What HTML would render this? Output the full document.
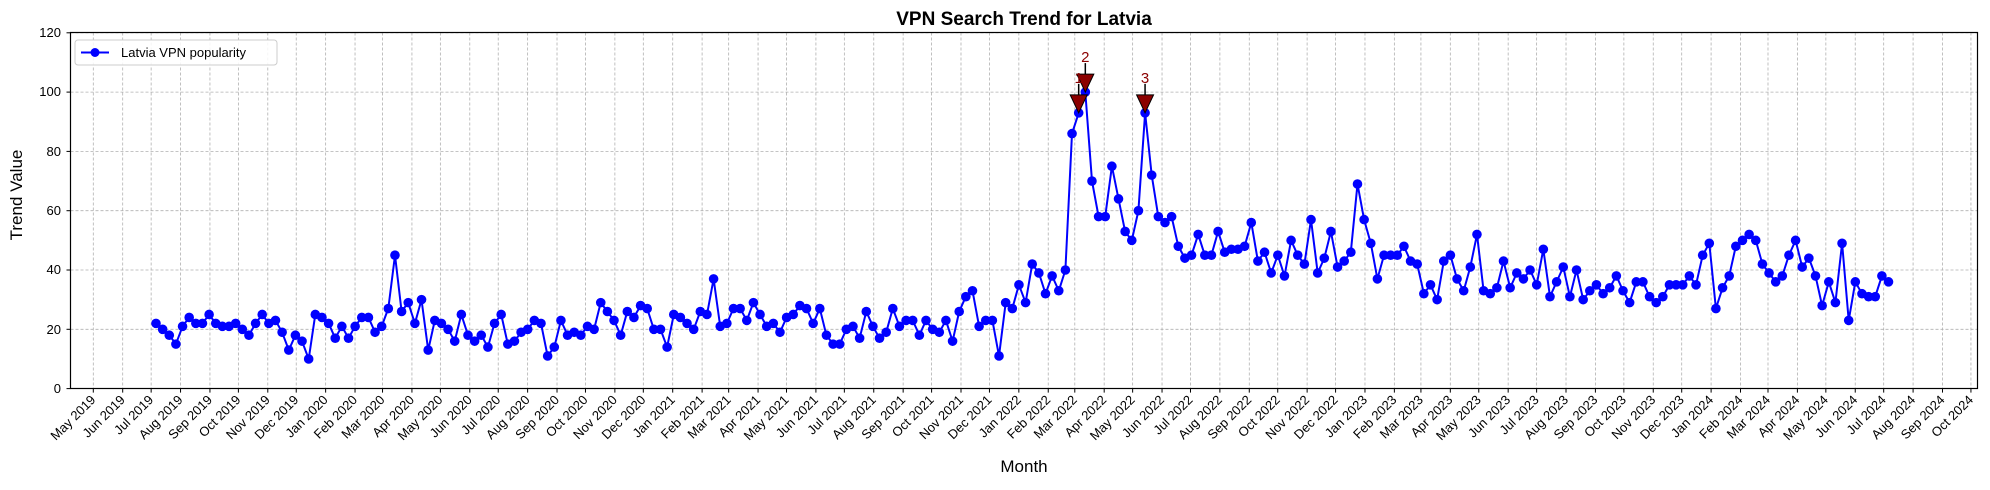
<!DOCTYPE html>
<html><head><meta charset="utf-8"><style>
body{margin:0;background:#fff;}
svg{display:block;font-family:"Liberation Sans","DejaVu Sans",sans-serif;}
</style></head><body>
<svg id="s" width="1990" height="490" xmlns="http://www.w3.org/2000/svg">
<rect width="1990" height="490" fill="#fff"/>
<g id="grid"></g>
<g id="ylab" font-size="13" text-anchor="end" fill="#000">
<text x="61" y="393">0</text><text x="61" y="334">20</text><text x="61" y="274">40</text><text x="61" y="215">60</text><text x="61" y="156">80</text><text x="61" y="96">100</text><text x="61" y="37">120</text>
</g>
<g id="xlab" font-size="13" text-anchor="end" fill="#000">
<text>May 2019</text><text>Jun 2019</text><text>Jul 2019</text><text>Aug 2019</text><text>Sep 2019</text><text>Oct 2019</text><text>Nov 2019</text><text>Dec 2019</text>
<text>Jan 2020</text><text>Feb 2020</text><text>Mar 2020</text><text>Apr 2020</text><text>May 2020</text><text>Jun 2020</text><text>Jul 2020</text><text>Aug 2020</text><text>Sep 2020</text><text>Oct 2020</text><text>Nov 2020</text><text>Dec 2020</text>
<text>Jan 2021</text><text>Feb 2021</text><text>Mar 2021</text><text>Apr 2021</text><text>May 2021</text><text>Jun 2021</text><text>Jul 2021</text><text>Aug 2021</text><text>Sep 2021</text><text>Oct 2021</text><text>Nov 2021</text><text>Dec 2021</text>
<text>Jan 2022</text><text>Feb 2022</text><text>Mar 2022</text><text>Apr 2022</text><text>May 2022</text><text>Jun 2022</text><text>Jul 2022</text><text>Aug 2022</text><text>Sep 2022</text><text>Oct 2022</text><text>Nov 2022</text><text>Dec 2022</text>
<text>Jan 2023</text><text>Feb 2023</text><text>Mar 2023</text><text>Apr 2023</text><text>May 2023</text><text>Jun 2023</text><text>Jul 2023</text><text>Aug 2023</text><text>Sep 2023</text><text>Oct 2023</text><text>Nov 2023</text><text>Dec 2023</text>
<text>Jan 2024</text><text>Feb 2024</text><text>Mar 2024</text><text>Apr 2024</text><text>May 2024</text><text>Jun 2024</text><text>Jul 2024</text><text>Aug 2024</text><text>Sep 2024</text><text>Oct 2024</text>
</g>
<g id="series"></g>
<g id="ann"></g>
<text x="16" y="0" transform="translate(22,211) rotate(-90)" font-size="17" text-anchor="middle" x="0">Trend Value</text>
<text x="1024" y="472" font-size="17" text-anchor="middle">Month</text>
<text x="1024" y="25" font-size="19" font-weight="bold" text-anchor="middle">VPN Search Trend for Latvia</text>
<rect x="70.5" y="32.5" width="1907" height="356" fill="none" stroke="#000" stroke-width="1.2"/>
<g id="legend">
<rect x="75" y="40" width="202" height="25" rx="3" fill="#fff" fill-opacity="0.85" stroke="#ccc"/>
<line x1="81" y1="52.5" x2="109" y2="52.5" stroke="#0000ff" stroke-width="2"/>
<circle cx="95" cy="52.5" r="4.5" fill="#0000ff"/>
<text x="121" y="57" font-size="13">Latvia VPN popularity</text>
</g>
<g id="ann2" font-size="15" fill="#8b0000" text-anchor="middle">
<text id="l1">1</text><text id="l2">2</text><text id="l3">3</text>
</g>
</svg>
<script>
var NS="http://www.w3.org/2000/svg";
function el(t,a,p){var e=document.createElementNS(NS,t);for(var k in a)e.setAttribute(k,a[k]);p.appendChild(e);return e;}
var L=70.5,R=1977.5,T=32.5,B=388.6,ppu=2.965;
function Y(v){return B-v*ppu;}
var g=document.getElementById('grid');
for(var v=0;v<=120;v+=20){var y=Y(v);el('line',{x1:L,x2:R,y1:y,y2:y,stroke:'#b0b0b0','stroke-width':0.8,'stroke-dasharray':'3,2'},g);el('line',{x1:L-4,x2:L,y1:y,y2:y,stroke:'#000'},g);}
var base=Date.UTC(2019,4,1),ppd=0.9483,x0=93.3;
var labs=document.getElementById('xlab').children;
for(var i=0;i<66;i++){var d=Date.UTC(2019,4+i,1);var x=x0+(d-base)/864e5*ppd;
el('line',{x1:x,x2:x,y1:T,y2:B,stroke:'#b0b0b0','stroke-width':0.8,'stroke-dasharray':'3,2'},g);
el('line',{x1:x,x2:x,y1:B,y2:B+4,stroke:'#000'},g);
labs[i].setAttribute('transform','translate('+(x+3)+','+(B+12)+') rotate(-45)');}
var d=[22,20,18,15,21,24,22,22,25,22,21,21,22,20,18,22,25,22,23,19,13,18,16,10,25,24,22,17,21,17,21,24,24,19,21,27,45,26,29,22,30,13,23,22,20,16,25,18,16,18,14,22,25,15,16,19,20,23,22,11,14,23,18,19,18,21,20,29,26,23,18,26,24,28,27,20,20,14,25,24,22,20,26,25,37,21,22,27,27,23,29,25,21,22,19,24,25,28,27,22,27,18,15,15,20,21,17,26,21,17,19,27,21,23,23,18,23,20,19,23,16,26,31,33,21,23,23,11,29,27,35,29,42,39,32,38,33,40,86,93,100,70,58,58,75,64,53,50,60,93,72,58,56,58,48,44,45,52,45,45,53,46,47,47,48,56,43,46,39,45,38,50,45,42,57,39,44,53,41,43,46,69,57,49,37,45,45,45,48,43,42,32,35,30,43,45,37,33,41,52,33,32,34,43,34,39,37,40,35,47,31,36,41,31,40,30,33,35,32,34,38,33,29,36,36,31,29,31,35,35,35,38,35,45,49,27,34,38,48,50,52,50,42,39,36,38,45,50,41,44,38,28,36,29,49,23,36,32,31,31,38,36];
var s=document.getElementById('series'),pts=[];
function X(i){return 156+i*6.638;}
for(var i=0;i<d.length;i++)pts.push(X(i).toFixed(1)+','+Y(d[i]).toFixed(1));
el('polyline',{points:pts.join(' '),fill:'none',stroke:'#0000ff','stroke-width':2},s);
for(var i=0;i<d.length;i++)el('circle',{cx:X(i),cy:Y(d[i]),r:4.8,fill:'#0000ff'},s);
var a=document.getElementById('ann');
[[139,'l1'],[149,'l3'],[140,'l2']].forEach(function(p){var x=X(p[0]),y=Y(d[p[0]]);
el('line',{x1:x,x2:x,y1:y-29,y2:y-18,stroke:'#000','stroke-width':1.5},a);
el('polygon',{points:(x-8.5)+','+(y-18)+' '+(x+8.5)+','+(y-18)+' '+x+','+y,fill:'#8b0000',stroke:'#000','stroke-width':1},a);
var t=document.getElementById(p[1]);t.setAttribute('x',x);t.setAttribute('y',y-30);});
</script>
</body></html>
